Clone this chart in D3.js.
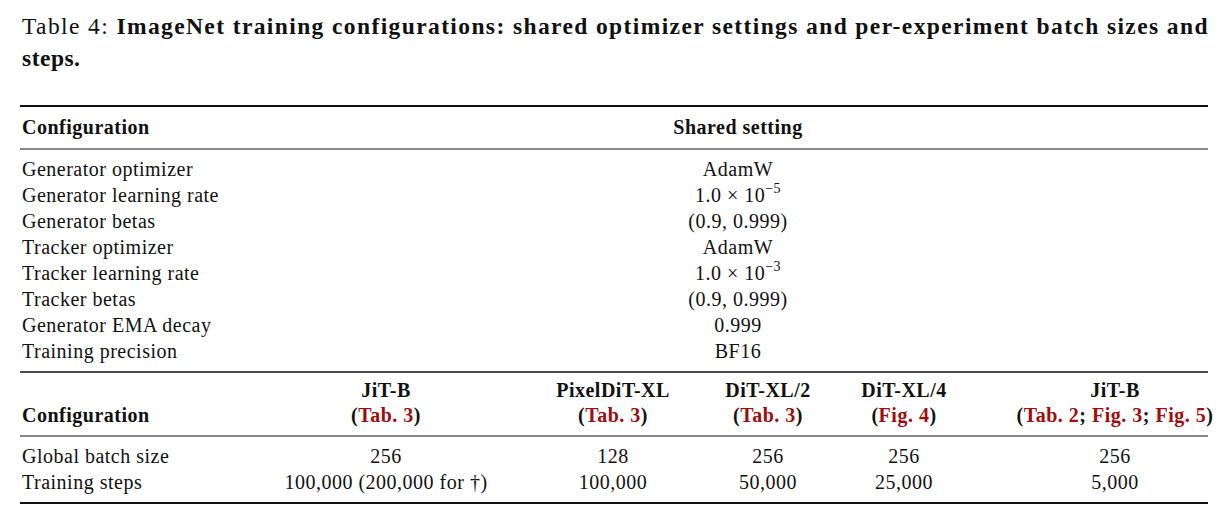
<!DOCTYPE html>
<html><head><meta charset="utf-8">
<script src="https://cdn.jsdelivr.net/npm/d3@7"></script>
<style>body{margin:0;background:#fff}text{font-family:"Liberation Serif","DejaVu Serif",serif;fill:#111;letter-spacing:0.5px}</style>
</head><body>
<svg id="c" width="1228" height="525"></svg>
<script>
const sharedRows = ["Generator optimizer","Generator learning rate","Generator betas","Tracker optimizer","Tracker learning rate","Tracker betas","Generator EMA decay","Training precision"];
const sharedVals = ["AdamW",["1.0 × 10","−5"],"(0.9, 0.999)","AdamW",["1.0 × 10","−3"],"(0.9, 0.999)","0.999","BF16"];
const expCols = [
  {name:"JiT-B", refs:[["Tab. 3"]]},
  {name:"PixelDiT-XL", refs:[["Tab. 3"]]},
  {name:"DiT-XL/2", refs:[["Tab. 3"]]},
  {name:"DiT-XL/4", refs:[["Fig. 4"]]},
  {name:"JiT-B", refs:[["Tab. 2"],["Fig. 3"],["Fig. 5"]]}
];
const expRows = ["Global batch size","Training steps"];
const batchSizes = ["256","128","256","256","256"];
const trainSteps = ["100,000 (200,000 for †)","100,000","50,000","25,000","5,000"];

const svg = d3.select("#c");
const red = "#a10d0d";
const x = d3.scaleOrdinal().domain(d3.range(5)).range([386,613,768,904,1115]);
const ySh = d3.scalePoint().domain(d3.range(sharedRows.length)).range([170,352]);
const yEx = d3.scalePoint().domain(d3.range(expRows.length)).range([457,483]);

const t = svg.append("text").attr("x",22).attr("y",34).attr("font-size",23.5)
  .attr("textLength",1186).attr("lengthAdjust","spacing");
t.append("tspan").text("Table 4: ");
t.append("tspan").attr("font-weight","bold").text("ImageNet training configurations: shared optimizer settings and per-experiment batch sizes and");
svg.append("text").attr("x",22).attr("y",66).attr("font-size",23.5).attr("font-weight","bold").text("steps.");

const rule = (y,w) => svg.append("line").attr("x1",20).attr("x2",1208).attr("y1",y).attr("y2",y).attr("stroke","#111").attr("stroke-width",w);
rule(106,2.2); rule(149,1.2); rule(372,1.6); rule(436,1.2); rule(503,2.2);

const fs = 20;
svg.append("text").attr("x",22).attr("y",134).attr("font-size",fs).attr("font-weight","bold").text("Configuration");
svg.append("text").attr("x",738).attr("y",134).attr("font-size",fs).attr("font-weight","bold").attr("text-anchor","middle").text("Shared setting");

sharedRows.forEach((r,i)=>{
  svg.append("text").attr("x",22).attr("y",ySh(i)+6).attr("font-size",fs).text(r);
  const v = sharedVals[i];
  const tx = svg.append("text").attr("x",738).attr("y",ySh(i)+6).attr("font-size",fs).attr("text-anchor","middle");
  if (Array.isArray(v)) {
    tx.append("tspan").text(v[0].replace(" × ","  ×  "));
    tx.append("tspan").attr("dy",-9).attr("font-size",14).text(v[1]);
  } else tx.text(v);
});

svg.append("text").attr("x",22).attr("y",422).attr("font-size",fs).attr("font-weight","bold").text("Configuration");
expCols.forEach((c,i)=>{
  svg.append("text").attr("x",x(i)).attr("y",397).attr("font-size",fs).attr("font-weight","bold").attr("text-anchor","middle").text(c.name);
  const tx = svg.append("text").attr("x",x(i)).attr("y",422).attr("font-size",fs).attr("font-weight","bold").attr("text-anchor","middle");
  tx.append("tspan").text("(");
  c.refs.forEach((r,j)=>{
    if (j>0) tx.append("tspan").text("; ");
    tx.append("tspan").attr("fill",red).style("fill",red).text(r[0]);
  });
  tx.append("tspan").text(")");
});

expRows.forEach((r,i)=>{
  svg.append("text").attr("x",22).attr("y",yEx(i)+6).attr("font-size",fs).text(r);
  const vals = i===0 ? batchSizes : trainSteps;
  vals.forEach((v,j)=>svg.append("text").attr("x",x(j)).attr("y",yEx(i)+6).attr("font-size",fs).attr("text-anchor","middle").text(v));
});
</script>
</body></html>
